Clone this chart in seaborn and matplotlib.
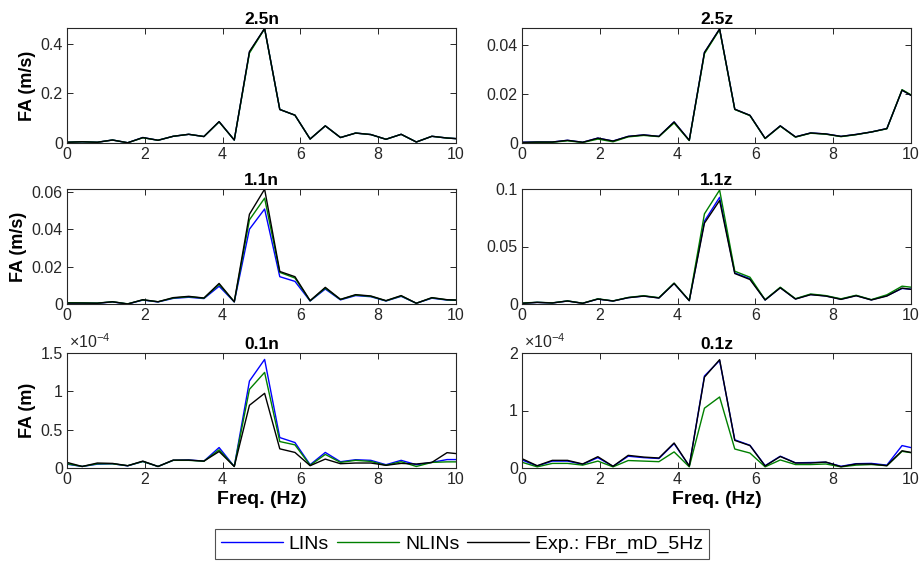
import matplotlib
matplotlib.use("Agg")
import matplotlib.pyplot as plt
import seaborn as sns
import pandas as pd
from matplotlib.ticker import FuncFormatter, MultipleLocator
from matplotlib.lines import Line2D

# ---------------- data ----------------
freq = [0.00, 0.39, 0.78, 1.17, 1.56, 1.95, 2.34, 2.73, 3.13, 3.52, 3.91, 4.30, 4.69,
        5.08, 5.47, 5.86, 6.25, 6.64, 7.03, 7.42, 7.81, 8.20, 8.59, 8.98, 9.38, 9.77, 10.16]

series_names = ["LINs", "NLINs", "Exp.: FBr_mD_5Hz"]
series_colors = ["#0000FF", "#008000", "#000000"]

titles = ["2.5n", "2.5z", "1.1n", "1.1z", "0.1n", "0.1z"]
ylabels = ["FA (m/s)", "", "FA (m/s)", "", "FA (m)", ""]

# 2.5n
lin_25n = [0.003, 0.005, 0.003, 0.012, 0.001, 0.022, 0.011, 0.027, 0.035, 0.026, 0.086, 0.012, 0.366,
           0.461, 0.135, 0.112, 0.016, 0.069, 0.022, 0.040, 0.034, 0.015, 0.035, 0.004, 0.027, 0.020, 0.016]
nlin_25n = [0.003, 0.005, 0.003, 0.012, 0.001, 0.021, 0.011, 0.027, 0.035, 0.026, 0.085, 0.012, 0.362,
            0.460, 0.135, 0.112, 0.016, 0.069, 0.022, 0.040, 0.034, 0.015, 0.035, 0.004, 0.027, 0.020, 0.016]
exp_25n = [0.003, 0.005, 0.003, 0.012, 0.001, 0.022, 0.011, 0.027, 0.035, 0.026, 0.086, 0.012, 0.368,
           0.461, 0.135, 0.112, 0.016, 0.069, 0.022, 0.040, 0.034, 0.015, 0.035, 0.004, 0.027, 0.020, 0.016]

# 2.5z
lin_25z = [0.0003, 0.0004, 0.0004, 0.0011, 0.0003, 0.0020, 0.0008, 0.0027, 0.0033, 0.0027, 0.0086, 0.0011, 0.0370,
           0.0466, 0.0138, 0.0113, 0.0019, 0.0070, 0.0025, 0.0041, 0.0037, 0.0027, 0.0035, 0.0045, 0.0059, 0.0216, 0.0180]
nlin_25z = [0.0001, 0.0003, 0.0003, 0.0009, 0.0002, 0.0016, 0.0005, 0.0025, 0.0031, 0.0026, 0.0082, 0.0010, 0.0365,
            0.0464, 0.0137, 0.0112, 0.0018, 0.0069, 0.0024, 0.0040, 0.0036, 0.0026, 0.0034, 0.0045, 0.0058, 0.0218, 0.0182]
exp_25z = [0.0003, 0.0004, 0.0004, 0.0011, 0.0003, 0.0020, 0.0008, 0.0027, 0.0033, 0.0027, 0.0086, 0.0011, 0.0370,
           0.0466, 0.0138, 0.0113, 0.0019, 0.0070, 0.0025, 0.0041, 0.0037, 0.0027, 0.0035, 0.0045, 0.0059, 0.0216, 0.0180]

# 1.1n
lin_11n = [0.0005, 0.0005, 0.0004, 0.0011, 0.0000, 0.0021, 0.0011, 0.0030, 0.0036, 0.0029, 0.0095, 0.0011, 0.0400,
           0.0508, 0.0146, 0.0121, 0.0016, 0.0080, 0.0022, 0.0045, 0.0039, 0.0016, 0.0041, 0.0004, 0.0031, 0.0021, 0.0019]
nlin_11n = [0.0007, 0.0006, 0.0005, 0.0012, 0.0001, 0.0022, 0.0012, 0.0032, 0.0039, 0.0031, 0.0105, 0.0012, 0.0450,
            0.0566, 0.0169, 0.0139, 0.0017, 0.0085, 0.0024, 0.0048, 0.0041, 0.0017, 0.0043, 0.0004, 0.0033, 0.0022, 0.0020]
exp_11n = [0.0005, 0.0005, 0.0004, 0.0012, 0.0000, 0.0023, 0.0012, 0.0034, 0.0041, 0.0032, 0.0110, 0.0012, 0.0480,
           0.0614, 0.0174, 0.0146, 0.0018, 0.0089, 0.0025, 0.0050, 0.0043, 0.0018, 0.0045, 0.0004, 0.0034, 0.0023, 0.0020]

# 1.1z
lin_11z = [0.0006, 0.0014, 0.0009, 0.0026, 0.0006, 0.0043, 0.0026, 0.0055, 0.0069, 0.0053, 0.0178, 0.0029, 0.0720,
           0.0928, 0.0270, 0.0220, 0.0035, 0.0142, 0.0044, 0.0083, 0.0070, 0.0042, 0.0073, 0.0036, 0.0072, 0.0135, 0.0125]
nlin_11z = [0.0008, 0.0015, 0.0010, 0.0027, 0.0007, 0.0045, 0.0027, 0.0057, 0.0072, 0.0055, 0.0182, 0.0030, 0.0784,
            0.0991, 0.0285, 0.0233, 0.0037, 0.0146, 0.0046, 0.0087, 0.0073, 0.0045, 0.0076, 0.0038, 0.0080, 0.0155, 0.0140]
exp_11z = [0.0006, 0.0014, 0.0009, 0.0026, 0.0006, 0.0043, 0.0026, 0.0055, 0.0069, 0.0052, 0.0179, 0.0029, 0.0703,
           0.0900, 0.0265, 0.0213, 0.0035, 0.0141, 0.0043, 0.0081, 0.0069, 0.0040, 0.0072, 0.0035, 0.0069, 0.0138, 0.0120]

# 0.1n
lin_01n = [0.050e-4, 0.020e-4, 0.050e-4, 0.055e-4, 0.028e-4, 0.085e-4, 0.020e-4, 0.100e-4, 0.105e-4, 0.090e-4,
           0.267e-4, 0.020e-4, 1.134e-4, 1.416e-4, 0.397e-4, 0.332e-4, 0.043e-4, 0.203e-4, 0.082e-4, 0.108e-4,
           0.100e-4, 0.043e-4, 0.100e-4, 0.043e-4, 0.073e-4, 0.110e-4, 0.110e-4]
nlin_01n = [0.056e-4, 0.020e-4, 0.055e-4, 0.055e-4, 0.030e-4, 0.085e-4, 0.020e-4, 0.100e-4, 0.100e-4, 0.088e-4,
            0.237e-4, 0.020e-4, 1.026e-4, 1.247e-4, 0.345e-4, 0.302e-4, 0.035e-4, 0.177e-4, 0.073e-4, 0.100e-4,
            0.086e-4, 0.035e-4, 0.082e-4, 0.020e-4, 0.073e-4, 0.080e-4, 0.080e-4]
exp_01n = [0.073e-4, 0.020e-4, 0.065e-4, 0.060e-4, 0.030e-4, 0.090e-4, 0.020e-4, 0.103e-4, 0.103e-4, 0.090e-4,
           0.215e-4, 0.020e-4, 0.818e-4, 0.974e-4, 0.250e-4, 0.203e-4, 0.030e-4, 0.116e-4, 0.056e-4, 0.065e-4,
           0.065e-4, 0.035e-4, 0.060e-4, 0.052e-4, 0.073e-4, 0.200e-4, 0.180e-4]

# 0.1z
lin_01z = [0.140e-4, 0.035e-4, 0.120e-4, 0.120e-4, 0.065e-4, 0.180e-4, 0.028e-4, 0.205e-4, 0.180e-4, 0.165e-4,
           0.425e-4, 0.033e-4, 1.600e-4, 1.870e-4, 0.490e-4, 0.395e-4, 0.040e-4, 0.205e-4, 0.090e-4, 0.095e-4,
           0.100e-4, 0.030e-4, 0.075e-4, 0.080e-4, 0.050e-4, 0.390e-4, 0.330e-4]
nlin_01z = [0.100e-4, 0.020e-4, 0.080e-4, 0.080e-4, 0.050e-4, 0.120e-4, 0.020e-4, 0.130e-4, 0.120e-4, 0.110e-4,
            0.280e-4, 0.020e-4, 1.040e-4, 1.235e-4, 0.330e-4, 0.260e-4, 0.020e-4, 0.140e-4, 0.060e-4, 0.060e-4,
            0.070e-4, 0.020e-4, 0.050e-4, 0.060e-4, 0.040e-4, 0.290e-4, 0.250e-4]
exp_01z = [0.162e-4, 0.040e-4, 0.133e-4, 0.133e-4, 0.070e-4, 0.197e-4, 0.030e-4, 0.220e-4, 0.190e-4, 0.174e-4,
           0.435e-4, 0.035e-4, 1.580e-4, 1.884e-4, 0.480e-4, 0.390e-4, 0.035e-4, 0.200e-4, 0.087e-4, 0.087e-4,
           0.104e-4, 0.023e-4, 0.070e-4, 0.070e-4, 0.040e-4, 0.300e-4, 0.250e-4]

panels = [
    (lin_25n, nlin_25n, exp_25n),
    (lin_25z, nlin_25z, exp_25z),
    (lin_11n, nlin_11n, exp_11n),
    (lin_11z, nlin_11z, exp_11z),
    (lin_01n, nlin_01n, exp_01n),
    (lin_01z, nlin_01z, exp_01z),
]
ylims = [0.463, 0.047, 0.0615, 0.1, 1.5e-4, 2e-4]
ysteps = [0.2, 0.02, 0.02, 0.05, 0.5e-4, 1e-4]
yscales = [1, 1, 1, 1, 1e-4, 1e-4]

# ---------------- style ----------------
sns.set_theme(style="white")
plt.rcParams["font.family"] = ["Liberation Sans", "DejaVu Sans"]
plt.rcParams["mathtext.fontset"] = "custom"
plt.rcParams["mathtext.rm"] = "Liberation Sans"
plt.rcParams["mathtext.it"] = "Liberation Sans:italic"
plt.rcParams["mathtext.bf"] = "Liberation Sans:bold"
plt.rcParams["mathtext.default"] = "regular"
plt.rcParams["axes.unicode_minus"] = False

W, H = 921, 566
fig = plt.figure(figsize=(W / 100, H / 100), dpi=100)

col_left = [67, 522]
ax_w = 389
row_top = [28, 189, 353]
ax_h = 115

axc = "#262626"
palette = dict(zip(series_names, series_colors))

for i, (title, data) in enumerate(zip(titles, panels)):
    r, c = divmod(i, 2)
    x0 = col_left[c] / W
    y0 = 1 - (row_top[r] + ax_h) / H
    ax = fig.add_axes([x0, y0, ax_w / W, ax_h / H])

    df = pd.DataFrame({
        "freq": freq * 3,
        "FA": list(data[0]) + list(data[1]) + list(data[2]),
        "series": [series_names[0]] * len(freq) + [series_names[1]] * len(freq) + [series_names[2]] * len(freq),
    })
    sns.lineplot(data=df, x="freq", y="FA", hue="series", hue_order=series_names,
                 palette=palette, estimator=None, sort=False, legend=False,
                 linewidth=1.0, ax=ax)

    ax.set_xlim(0, 10)
    ax.set_ylim(0, ylims[i])
    ax.xaxis.set_major_locator(MultipleLocator(2))
    ax.yaxis.set_major_locator(MultipleLocator(ysteps[i]))
    sc = yscales[i]
    ax.yaxis.set_major_formatter(FuncFormatter(lambda v, p, sc=sc: f"{round(v / sc, 6):g}"))
    ax.xaxis.set_major_formatter(FuncFormatter(lambda v, p: f"{v:g}"))

    ax.tick_params(direction="in", length=4, width=0.7, colors=axc, labelsize=11.5,
                   top=True, right=True, bottom=True, left=True, pad=3)
    for sp in ax.spines.values():
        sp.set_color(axc)
        sp.set_linewidth(0.8)
        sp.set_visible(True)

    ax.set_title(title, fontsize=12.5, fontweight="bold", pad=3, color="black")
    if ylabels[i]:
        ax.set_ylabel(ylabels[i], fontsize=13, fontweight="bold", color="black", labelpad=3)
    else:
        ax.set_ylabel("")
    if r == 2:
        ax.set_xlabel("Freq. (Hz)", fontsize=14, fontweight="bold", color="black", labelpad=3)
    else:
        ax.set_xlabel("")
    if sc != 1:
        ax.text(0.005, 1.015, r"$\times10^{-4}$", transform=ax.transAxes, ha="left", va="bottom",
                fontsize=11.5, color=axc)

handles = [Line2D([], [], color=col, lw=1.0) for col in series_colors]
leg = fig.legend(handles, series_names, loc="center", bbox_to_anchor=(462 / W, 1 - 544 / H),
                 ncol=3, frameon=True, fancybox=False, fontsize=14, handlelength=3.2,
                 handletextpad=0.3, columnspacing=0.4, borderpad=0.3, borderaxespad=0)
leg.get_frame().set_edgecolor("#262626")
leg.get_frame().set_linewidth(0.8)
for t in leg.get_texts():
    t.set_color("black")

fig.savefig("out.png", dpi=100)
